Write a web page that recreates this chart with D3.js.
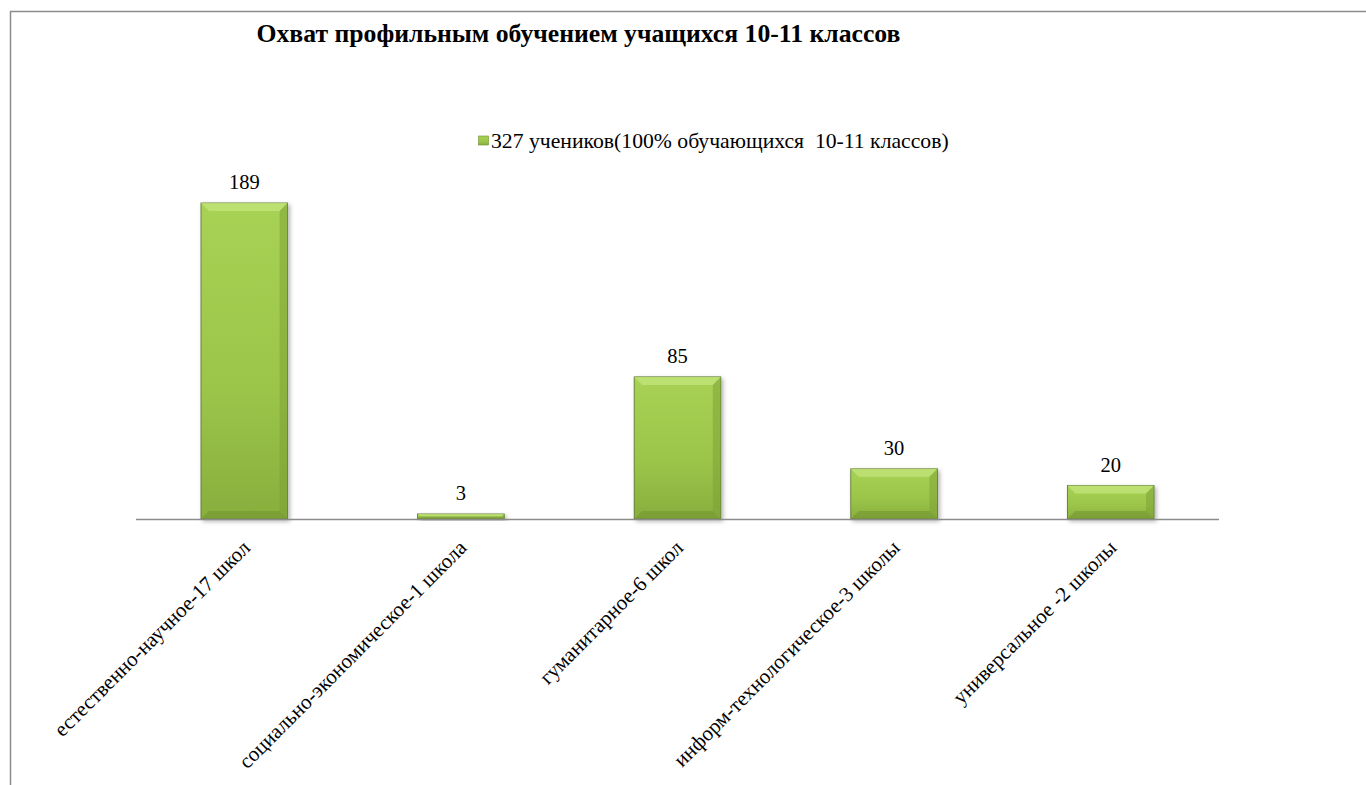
<!DOCTYPE html>
<html><head><meta charset="utf-8">
<script src="https://cdn.jsdelivr.net/npm/d3@7"></script>
<style>
html,body{margin:0;padding:0;background:#fff;overflow:hidden;}
</style></head>
<body>
<script>
const categories = ["естественно-научное-17 школ","социально-экономическое-1 школа","гуманитарное-6 школ","информ-технологическое-3 школы","универсальное -2 школы"];
const values = [189, 3, 85, 30, 20];
const seriesName = "327 учеников(100% обучающихся  10-11 классов)";
const title = "Охват профильным обучением учащихся 10-11 классов";

const FONT = "Liberation Serif";
const W = 1366, H = 785;
const svg = d3.select("body").append("svg").attr("width", W).attr("height", H).style("display","block");
const defs = svg.append("defs");
const g1 = defs.append("linearGradient").attr("id","barGrad").attr("x1",0).attr("y1",0).attr("x2",0).attr("y2",1);
g1.append("stop").attr("offset","0%").attr("stop-color","#a8d254");
g1.append("stop").attr("offset","60%").attr("stop-color","#9ac549");
g1.append("stop").attr("offset","100%").attr("stop-color","#88ae3d");
const f = defs.append("filter").attr("id","shadow").attr("x","-20%").attr("y","-20%").attr("width","140%").attr("height","140%");
f.append("feDropShadow").attr("dx",2).attr("dy",2).attr("stdDeviation",2).attr("flood-color","#000").attr("flood-opacity",0.3);

// frame
svg.append("path").attr("d","M10.5,785 L10.5,11.5 L1366,11.5").attr("fill","none").attr("stroke","#8c8c8c").attr("stroke-width",1.5);

const x = d3.scaleBand().domain(categories).range([136,1219]).paddingInner(0.6).paddingOuter(0.3);
const y = d3.scaleLinear().domain([0,200]).range([519, 184.6]);

// title
svg.append("text").attr("font-family",FONT).attr("x",578.5).attr("y",42).attr("text-anchor","middle").attr("font-weight","bold").attr("font-size",25.7).text(title);

// legend
svg.append("rect").attr("x",478.5).attr("y",136).attr("width",10).attr("height",9).attr("fill","url(#barGrad)").attr("stroke","#6e8f31").attr("stroke-width",0.6);
svg.append("text").attr("font-family",FONT).attr("x",491).attr("y",148).attr("font-size",21.7).attr("xml:space","preserve").style("white-space","pre").text(seriesName);

// bars
const bars = svg.append("g").selectAll("g").data(values).join("g");
bars.append("rect")
  .attr("x",(d,i)=>x(categories[i]))
  .attr("y",d=>y(d))
  .attr("width",x.bandwidth())
  .attr("height",d=>y(0)-y(d))
  .attr("fill","url(#barGrad)")
  .attr("stroke","#55702a").attr("stroke-width",0.8)
  .attr("filter","url(#shadow)");
bars.append("path")
  .attr("d",(d,i)=>{
    const x0=x(categories[i]), x1=x0+x.bandwidth(), y0=y(d), h=y(0)-y(d);
    const b=Math.min(8,h/2);
    return `M${x0},${y0} L${x1},${y0} L${x1-b},${y0+b} L${x0+b},${y0+b} Z`;
  }).attr("fill","#c4e47c").attr("opacity",0.75);
bars.append("path")
  .attr("d",(d,i)=>{
    const x0=x(categories[i]), x1=x0+x.bandwidth(), y0=y(d), y1=y(0), h=y1-y0;
    const b=Math.min(8,h/2);
    return `M${x1},${y0} L${x1},${y1} L${x1-b},${y1-b} L${x1-b},${y0+b} Z`;
  }).attr("fill","#7c9f35").attr("opacity",0.5);
bars.append("path")
  .attr("d",(d,i)=>{
    const x0=x(categories[i]), x1=x0+x.bandwidth(), y0=y(d), y1=y(0), h=y1-y0;
    const b=Math.min(8,h/2);
    return `M${x0},${y1} L${x1},${y1} L${x1-b},${y1-b} L${x0+b},${y1-b} Z`;
  }).attr("fill","#6f9030").attr("opacity",0.5);

// axis line
svg.append("line").attr("x1",136).attr("x2",1219).attr("y1",519.5).attr("y2",519.5).attr("stroke","#8c8c8c").attr("stroke-width",1.5);

// value labels
svg.append("g").selectAll("text").data(values).join("text")
  .attr("font-family",FONT)
  .attr("x",(d,i)=>x(categories[i])+x.bandwidth()/2)
  .attr("y",d=>y(d)-14)
  .attr("text-anchor","middle").attr("font-size",20.5).text(d=>d);

// category labels
svg.append("g").selectAll("text").data(categories).join("text")
  .attr("font-family",FONT)
  .attr("transform",d=>`translate(${x(d)+x.bandwidth()/2+7},${549}) rotate(-45)`)
  .attr("text-anchor","end").attr("font-size",21).text(d=>d);
</script>
</body></html>
